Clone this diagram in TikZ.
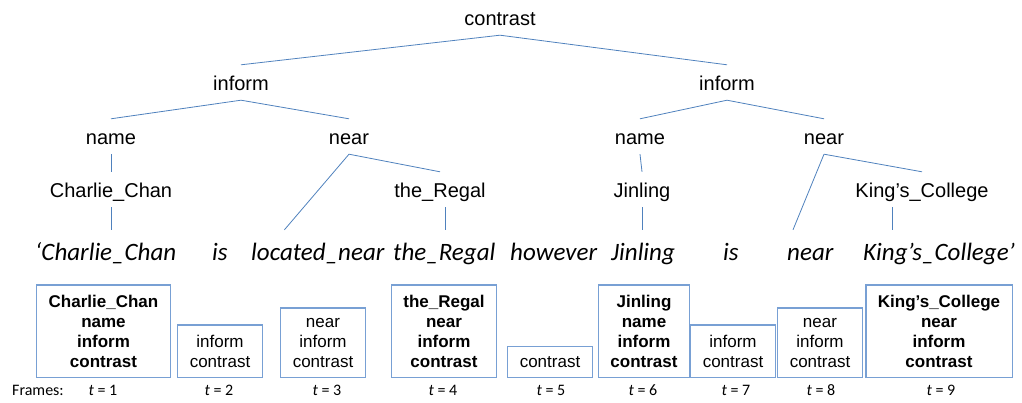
\documentclass[tikz,border=0pt]{standalone}
\usepackage{fontspec}
\setmainfont{Carlito}
\newfontfamily\arialf{Liberation Sans}
\usetikzlibrary{calc}
\definecolor{lineblue}{RGB}{79,129,189}
\definecolor{boxblue}{RGB}{120,160,212}

\begin{document}
\begin{tikzpicture}[x=1pt, y=-1pt]
\tikzstyle{nd}=[anchor=base, inner sep=0pt, text height=26pt, text depth=9pt, font=\arialf\fontsize{20}{24}\selectfont]
\tikzstyle{wd}=[anchor=base west, inner sep=0pt, text height=31pt, text depth=7pt, font=\itshape\fontsize{25}{30}\selectfont]
\tikzstyle{fr}=[anchor=south, draw=boxblue, line width=1.2pt, align=center, inner xsep=12pt, inner ysep=10pt, font=\arialf\fontsize{17}{20}\selectfont]
\tikzstyle{frb}=[fr, font=\arialf\bfseries\fontsize{17}{20}\selectfont]
\tikzstyle{tl}=[anchor=base, inner sep=0pt, font=\fontsize{16}{19}\selectfont]
\useasboundingbox (0,0) rectangle (1022,403);

% tree
\node[nd] (ct)    at (500,26)  {contrast};
\node[nd] (infA)  at (241,91)  {inform};
\node[nd] (infB)  at (727,91)  {inform};
\node[nd] (nmA)   at (111,145) {name};
\node[nd] (nrA)   at (349,145) {near};
\node[nd] (nmB)   at (640,145) {name};
\node[nd] (nrB)   at (824,145) {near};
\node[nd] (cc)    at (111,198) {Charlie\_Chan};
\node[nd] (rg)    at (440,198) {the\_Regal};
\node[nd] (jl)    at (642,198) {Jinling};
\node[nd] (kc)    at (922,198) {King’s\_College};

% sentence
\node[wd] (w1) at (35,261)  {‘Charlie\_Chan};
\node[wd] (w2) at (212,261) {is};
\node[wd] (w3) at (251,261) {located\_near};
\node[wd] (w4) at (393,261) {the\_Regal};
\node[wd] (w5) at (510,261) {however};
\node[wd] (w6) at (611,261) {Jinling};
\node[wd] (w7) at (723,261) {is};
\node[wd] (w8) at (787,261) {near};
\node[wd] (w9) at (863,261) {King’s\_College’};

% frames
\node[frb] (f1) at (103.5,378) {Charlie\_Chan\\name\\inform\\contrast};
\node[fr]  (f2) at (220,378)   {inform\\contrast};
\node[fr]  (f3) at (323,378)   {near\\inform\\contrast};
\node[frb] (f4) at (444,378)   {the\_Regal\\near\\inform\\contrast};
\node[fr]  (f5) at (550,378)   {contrast};
\node[frb] (f6) at (644,378)   {Jinling\\name\\inform\\contrast};
\node[fr]  (f7) at (733,378)   {inform\\contrast};
\node[fr]  (f8) at (820,378)   {near\\inform\\contrast};
\node[frb] (f9) at (939,378)   {King’s\_College\\near\\inform\\contrast};

\node[tl, anchor=base west] (frm) at (12,395) {Frames:};
\node[tl] (t1) at (103,395) {\textit{t} = 1};
\node[tl] (t2) at (219,395) {\textit{t} = 2};
\node[tl] (t3) at (327,395) {\textit{t} = 3};
\node[tl] (t4) at (443,395) {\textit{t} = 4};
\node[tl] (t5) at (551,395) {\textit{t} = 5};
\node[tl] (t6) at (643,395) {\textit{t} = 6};
\node[tl] (t7) at (736,395) {\textit{t} = 7};
\node[tl] (t8) at (821,395) {\textit{t} = 8};
\node[tl] (t9) at (941,395) {\textit{t} = 9};

\path[every edge/.style={draw=lineblue, line width=0.8pt}]
(ct.south) edge (infA.north)
       edge (infB.north)
(infA.south) edge (nmA.north)
       edge (nrA.north)
(infB.south) edge (nmB.north)
       edge (nrB.north)
(nmA.south) edge (cc.north)
(nrA.south) edge (rg.north)
       edge ($(w3.north west)!0.25!(w3.north east)$)
(nmB.south) edge (jl.north)
(nrB.south) edge (kc.north)
       edge ($(w8.north west)+(6,0)$)
(cc.south) edge (cc.south |- w1.north)
($(rg.south)+(5,0)$) edge ($(rg.south |- w4.north)+(5,0)$)
(jl.south) edge (jl.south |- w6.north)
($(kc.south)+(-30,0)$) edge ($(kc.south |- w9.north)+(-30,0)$);
\end{tikzpicture}
\end{document}
